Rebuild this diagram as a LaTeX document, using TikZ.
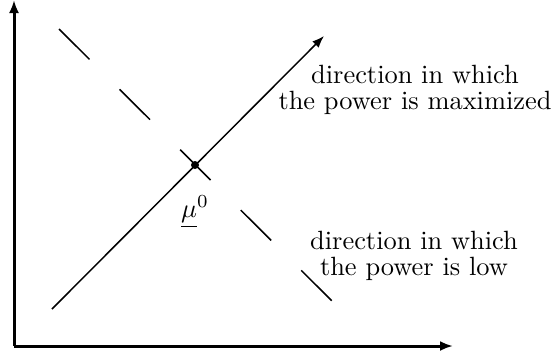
\documentclass[tikz,border=0pt]{standalone}
\usetikzlibrary{arrows.meta}
\tikzset{
  axis/.style={line width=3pt,-{Latex[length=13pt,width=10pt]}},
  dirline/.style={line width=1.5pt},
  bigtext/.style={inner sep=0pt,scale=2.64,transform shape,font=\fontsize{10}{9.85}\selectfont},
  lbl/.style={bigtext,align=center,anchor=north}
}
\begin{document}
\begin{tikzpicture}[x=1pt,y=-1pt]
\useasboundingbox (0,0) rectangle (552,354);
\coordinate (O) at (14,346);
\coordinate (ytip) at (14,0);
\coordinate (xtip) at (453,346);
\draw[axis] (O) -- (ytip);
\draw[axis] (O) -- (xtip);
\coordinate (s) at (52,309);
\coordinate (t) at (324,36);
\node[circle,fill,inner sep=0pt,minimum size=8pt] (mu) at (195,165) {};
\draw[dirline,-{Latex[length=12pt,width=9pt]}] (s) -- (t);
\coordinate (d1) at (59,29);
\coordinate (d2) at (332,301);
\draw[dirline,dash pattern=on 43pt off 42.5pt] (d1) -- (d2);
\node[bigtext] (mulbl) at (195,212) {$\underline{\mu}^0$};
\node[lbl] (max) at (415,64.7) {direction in which\\the power is maximized};
\node[lbl] (low) at (414,230.7) {direction in which\\the power is low};
\end{tikzpicture}
\end{document}
